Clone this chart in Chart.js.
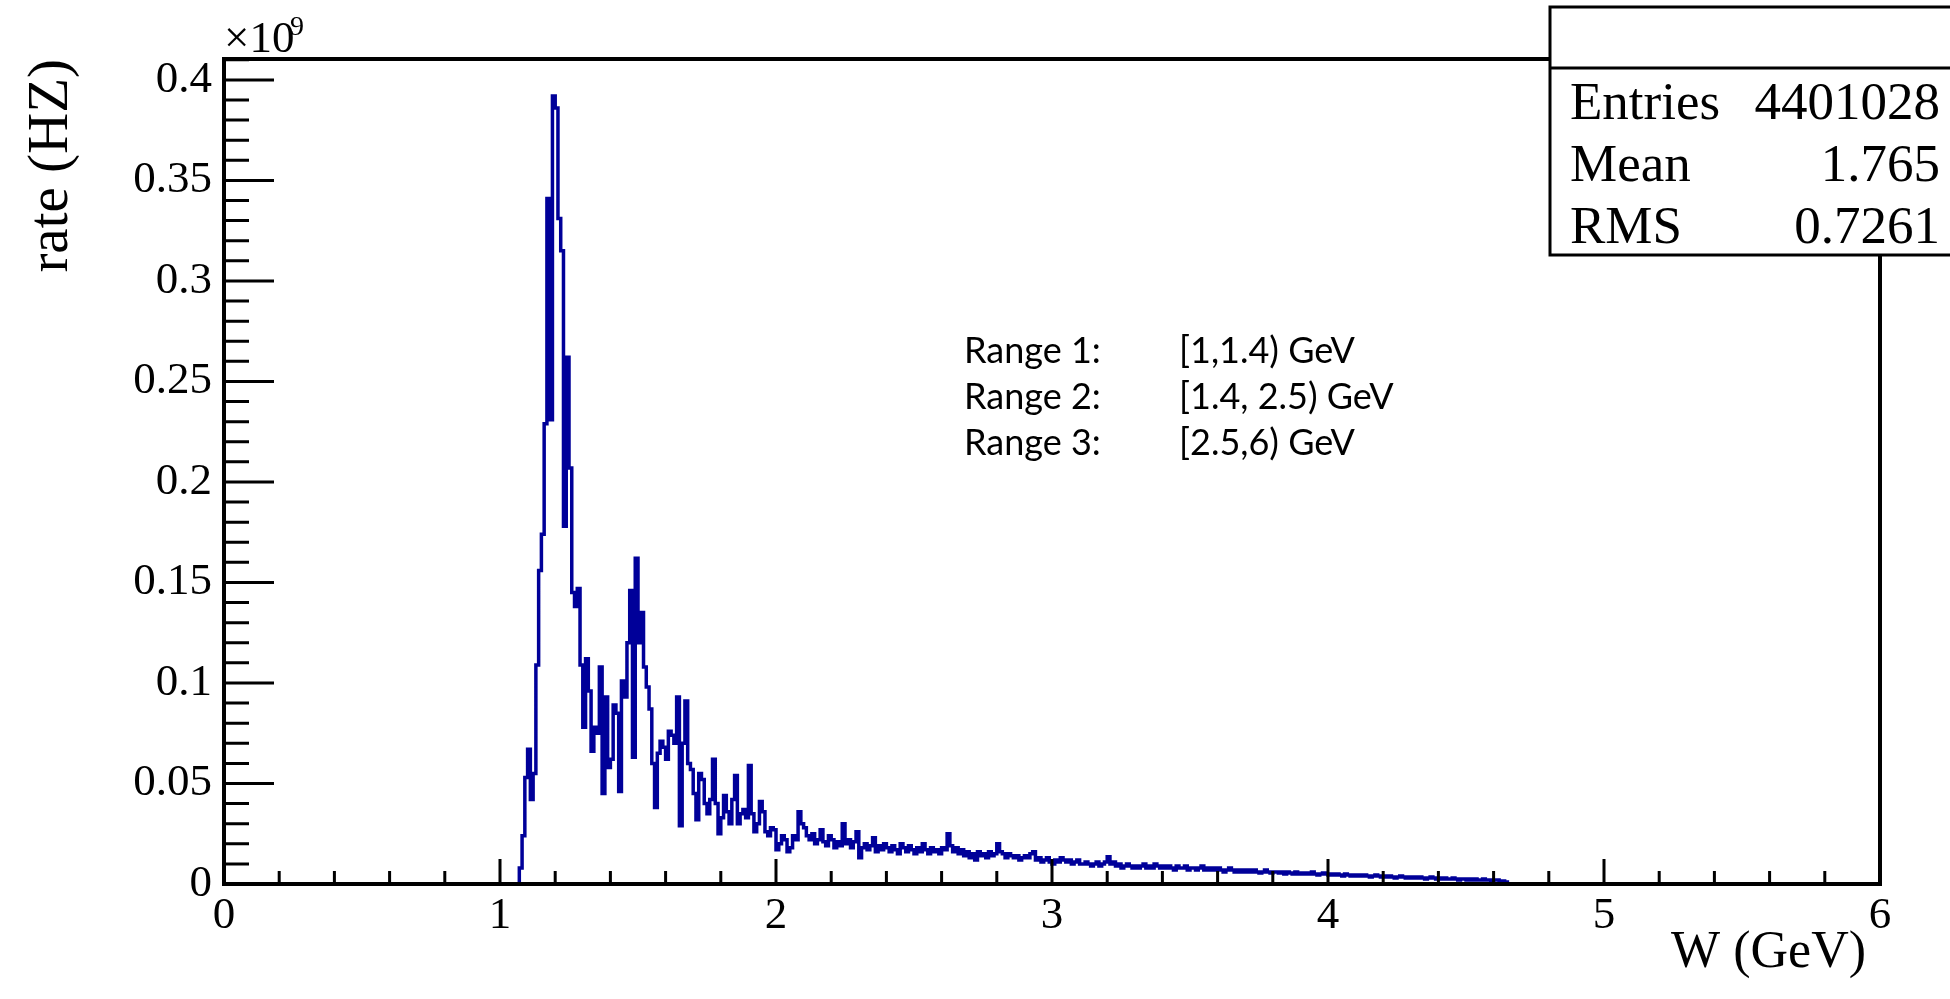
<!DOCTYPE html>
<html lang="en">
  <head>
    <meta charset="UTF-8" />
    <title>W rate</title>
    <style>
      html, body { margin: 0; padding: 0; background: #fff; }
      canvas { display: block; }
    </style>
  </head>
  <body>
    <canvas id="chart" width="1950" height="999"></canvas>
    <script src="https://cdn.jsdelivr.net/npm/chart.js@4.4.1/dist/chart.umd.min.js"></script>
    <script>
      // histogram bins: low edge of first bin and bin width (GeV)
      const binStart = 1.07;
      const binWidth = 0.01;
      // rate per bin, in units of 10^9 Hz
      const rate = [
        0.008, 0.024, 0.053, 0.067, 0.042, 0.055, 0.109, 0.156, 0.174, 0.229,
        0.341, 0.231, 0.392, 0.386, 0.331, 0.315, 0.178, 0.262, 0.207, 0.145,
        0.138, 0.147, 0.109, 0.078, 0.112, 0.096, 0.066, 0.078, 0.075, 0.108,
        0.045, 0.093, 0.058, 0.062, 0.089, 0.085, 0.046, 0.101, 0.093, 0.120,
        0.146, 0.063, 0.162, 0.120, 0.135, 0.108, 0.098, 0.087, 0.060, 0.038,
        0.065, 0.071, 0.068, 0.062, 0.076, 0.074, 0.070, 0.093, 0.029, 0.070,
        0.091, 0.060, 0.057, 0.045, 0.032, 0.055, 0.052, 0.040, 0.035, 0.042,
        0.062, 0.040, 0.025, 0.033, 0.044, 0.036, 0.030, 0.042, 0.054, 0.030,
        0.035, 0.037, 0.033, 0.059, 0.035, 0.026, 0.030, 0.041, 0.036, 0.026,
        0.024, 0.028, 0.027, 0.017, 0.020, 0.024, 0.022, 0.016, 0.018, 0.024,
        0.022, 0.036, 0.030, 0.028, 0.024, 0.022, 0.025, 0.020, 0.022, 0.027,
        0.021, 0.019, 0.024, 0.022, 0.018, 0.021, 0.019, 0.030, 0.020, 0.022,
        0.018, 0.021, 0.026, 0.013, 0.018, 0.020, 0.017, 0.019, 0.023, 0.016,
        0.019, 0.017, 0.020, 0.018, 0.016, 0.019, 0.017, 0.015, 0.020, 0.018,
        0.016, 0.019, 0.017, 0.015, 0.018, 0.016, 0.020, 0.017, 0.015, 0.018,
        0.016, 0.017, 0.015, 0.018, 0.017, 0.025, 0.019, 0.016, 0.018, 0.015,
        0.017, 0.014, 0.016, 0.013, 0.015, 0.012, 0.016, 0.014, 0.015, 0.013,
        0.016, 0.014, 0.015, 0.020, 0.016, 0.015, 0.013, 0.015, 0.014, 0.013,
        0.014, 0.012, 0.013, 0.014, 0.013, 0.015, 0.016, 0.012, 0.013, 0.011,
        0.012, 0.013, 0.011, 0.010, 0.012, 0.011, 0.013, 0.012, 0.011, 0.012,
        0.010, 0.011, 0.012, 0.010, 0.010, 0.011, 0.010, 0.009, 0.010, 0.011,
        0.009, 0.010, 0.011, 0.0135, 0.010, 0.011, 0.009, 0.010, 0.008, 0.009,
        0.010, 0.009, 0.008, 0.009, 0.008, 0.009, 0.010, 0.008, 0.009, 0.008,
        0.010, 0.009, 0.008, 0.009, 0.008, 0.009, 0.008, 0.007, 0.009, 0.008,
        0.008, 0.009, 0.007, 0.008, 0.008, 0.007, 0.008, 0.009, 0.007, 0.008,
        0.007, 0.008, 0.007, 0.008, 0.007, 0.006, 0.007, 0.008, 0.007, 0.006,
        0.007, 0.006, 0.007, 0.006, 0.007, 0.006, 0.007, 0.006, 0.0055, 0.006,
        0.007, 0.006, 0.0055, 0.006, 0.006, 0.0055, 0.006, 0.005, 0.006, 0.0055,
        0.005, 0.006, 0.005, 0.0055, 0.005, 0.0055, 0.005, 0.006, 0.005, 0.0045,
        0.005, 0.0055, 0.005, 0.0045, 0.005, 0.0045, 0.005, 0.0045, 0.004, 0.005,
        0.0045, 0.004, 0.0045, 0.004, 0.0045, 0.004, 0.0045, 0.004, 0.0035, 0.004,
        0.0045, 0.004, 0.0035, 0.004, 0.0035, 0.004, 0.0035, 0.003, 0.0035, 0.004,
        0.0035, 0.003, 0.0035, 0.003, 0.0035, 0.003, 0.0035, 0.003, 0.0025, 0.003,
        0.0035, 0.003, 0.0025, 0.003, 0.0025, 0.003, 0.0025, 0.0025, 0.003, 0.0025,
        0.002, 0.0025, 0.0025, 0.002, 0.0025, 0.002, 0.0025, 0.002, 0.002, 0.0025,
        0.002, 0.002, 0.0015, 0.002, 0.002, 0.0015, 0.0015, 0.001
      ];
      const xRange = [0, 6];
      const yRange = [0, 0.4104];
      const stats = [
        ["Entries", "4401028"],
        ["Mean", "1.765"],
        ["RMS", "0.7261"],
      ];
      const ranges = [
        ["Range 1:", "[1,1.4) GeV"],
        ["Range 2:", "[1.4, 2.5) GeV"],
        ["Range 3:", "[2.5,6) GeV"],
      ];

      const serif = '"Liberation Serif", "Times New Roman", serif';

      // step outline: start at zero, one point per low edge, close back to zero
      const points = [{ x: binStart, y: 0 }];
      rate.forEach(function (v, i) {
        points.push({ x: +(binStart + i * binWidth).toFixed(2), y: v });
      });
      points.push({ x: +(binStart + rate.length * binWidth).toFixed(2), y: 0 });

      const frame = {
        id: "frame",
        afterDatasetsDraw(chart) {
          const { ctx, chartArea: a, scales } = chart;
          ctx.save();
          ctx.strokeStyle = "#000";
          ctx.lineWidth = 3;
          ctx.beginPath();
          for (let i = 0; i <= 41; i++) {
            const py = scales.y.getPixelForValue(i / 100);
            ctx.moveTo(a.left, py);
            ctx.lineTo(a.left + (i % 5 === 0 ? 50 : 25), py);
          }
          for (let i = 0; i <= 30; i++) {
            const px = scales.x.getPixelForValue(i / 5);
            ctx.moveTo(px, a.bottom);
            ctx.lineTo(px, a.bottom - (i % 5 === 0 ? 25 : 13));
          }
          ctx.stroke();
          ctx.lineWidth = 4;
          ctx.strokeRect(a.left, a.top, a.right - a.left, a.bottom - a.top);
          ctx.restore();
        },
        afterDraw(chart) {
          const ctx = chart.ctx;
          ctx.save();
          // stats box
          ctx.fillStyle = "#fff";
          ctx.fillRect(1550, 7, 410, 248);
          ctx.strokeStyle = "#000";
          ctx.lineWidth = 3;
          ctx.strokeRect(1550, 7, 410, 248);
          ctx.beginPath();
          ctx.moveTo(1550, 68);
          ctx.lineTo(1950, 68);
          ctx.stroke();
          ctx.fillStyle = "#000";
          ctx.font = "53px " + serif;
          ctx.textBaseline = "alphabetic";
          stats.forEach(function (s, i) {
            const base = 119 + i * 62;
            ctx.textAlign = "left";
            ctx.fillText(s[0], 1570, base);
            ctx.textAlign = "right";
            ctx.fillText(s[1], 1940, base);
          });
          // x axis title, right aligned under the last label
          ctx.textAlign = "right";
          ctx.textBaseline = "middle";
          ctx.font = "52px " + serif;
          ctx.fillText("W (GeV)", 1866, 953);
          // exponent
          ctx.textBaseline = "alphabetic";
          ctx.textAlign = "left";
          ctx.font = "45px " + serif;
          ctx.fillText("\u00d710", 224, 52);
          ctx.font = "28px " + serif;
          ctx.fillText("9", 290, 35);
          // range notes
          ctx.font = "36px Lato, sans-serif";
          ranges.forEach(function (r, i) {
            const base = 363 + i * 46;
            ctx.fillText(r[0], 964, base);
            ctx.fillText(r[1], 1179, base);
          });
          ctx.restore();
        },
      };

      const config = {
        type: "line",
        data: {
          datasets: [
            {
              label: "W",
              data: points,
              stepped: "before",
              borderColor: "#000099",
              borderWidth: 3.5,
              pointRadius: 0,
              fill: false,
              tension: 0,
            },
          ],
        },
        options: {
          responsive: false,
          animation: false,
          events: [],
          layout: { padding: { top: 59, right: 70, left: 0, bottom: 0 } },
          plugins: { legend: { display: false }, tooltip: { enabled: false } },
          scales: {
            x: {
              type: "linear",
              min: xRange[0],
              max: xRange[1],
              grid: { display: false, drawTicks: false },
              border: { display: false },
              ticks: {
                stepSize: 1,
                padding: 5,
                color: "#000",
                font: { family: serif, size: 45 },
              },
              title: { display: false },
              afterFit: function (s) {
                s.height = 115;
              },
            },
            y: {
              min: yRange[0],
              max: yRange[1],
              grid: { display: false, drawTicks: false },
              border: { display: false },
              ticks: {
                stepSize: 0.05,
                includeBounds: false,
                padding: 12,
                color: "#000",
                font: { family: serif, size: 45 },
                callback: function (v) {
                  return String(+v.toFixed(2));
                },
              },
              title: {
                display: true,
                text: "rate (HZ)",
                align: "end",
                color: "#000",
                font: { family: serif, size: 57 },
                padding: { top: 18, bottom: 0 },
              },
              afterFit: function (s) {
                s.width = 224;
              },
            },
          },
        },
        plugins: [frame],
      };

      new Chart(document.getElementById("chart"), config);
    </script>
  </body>
</html>
